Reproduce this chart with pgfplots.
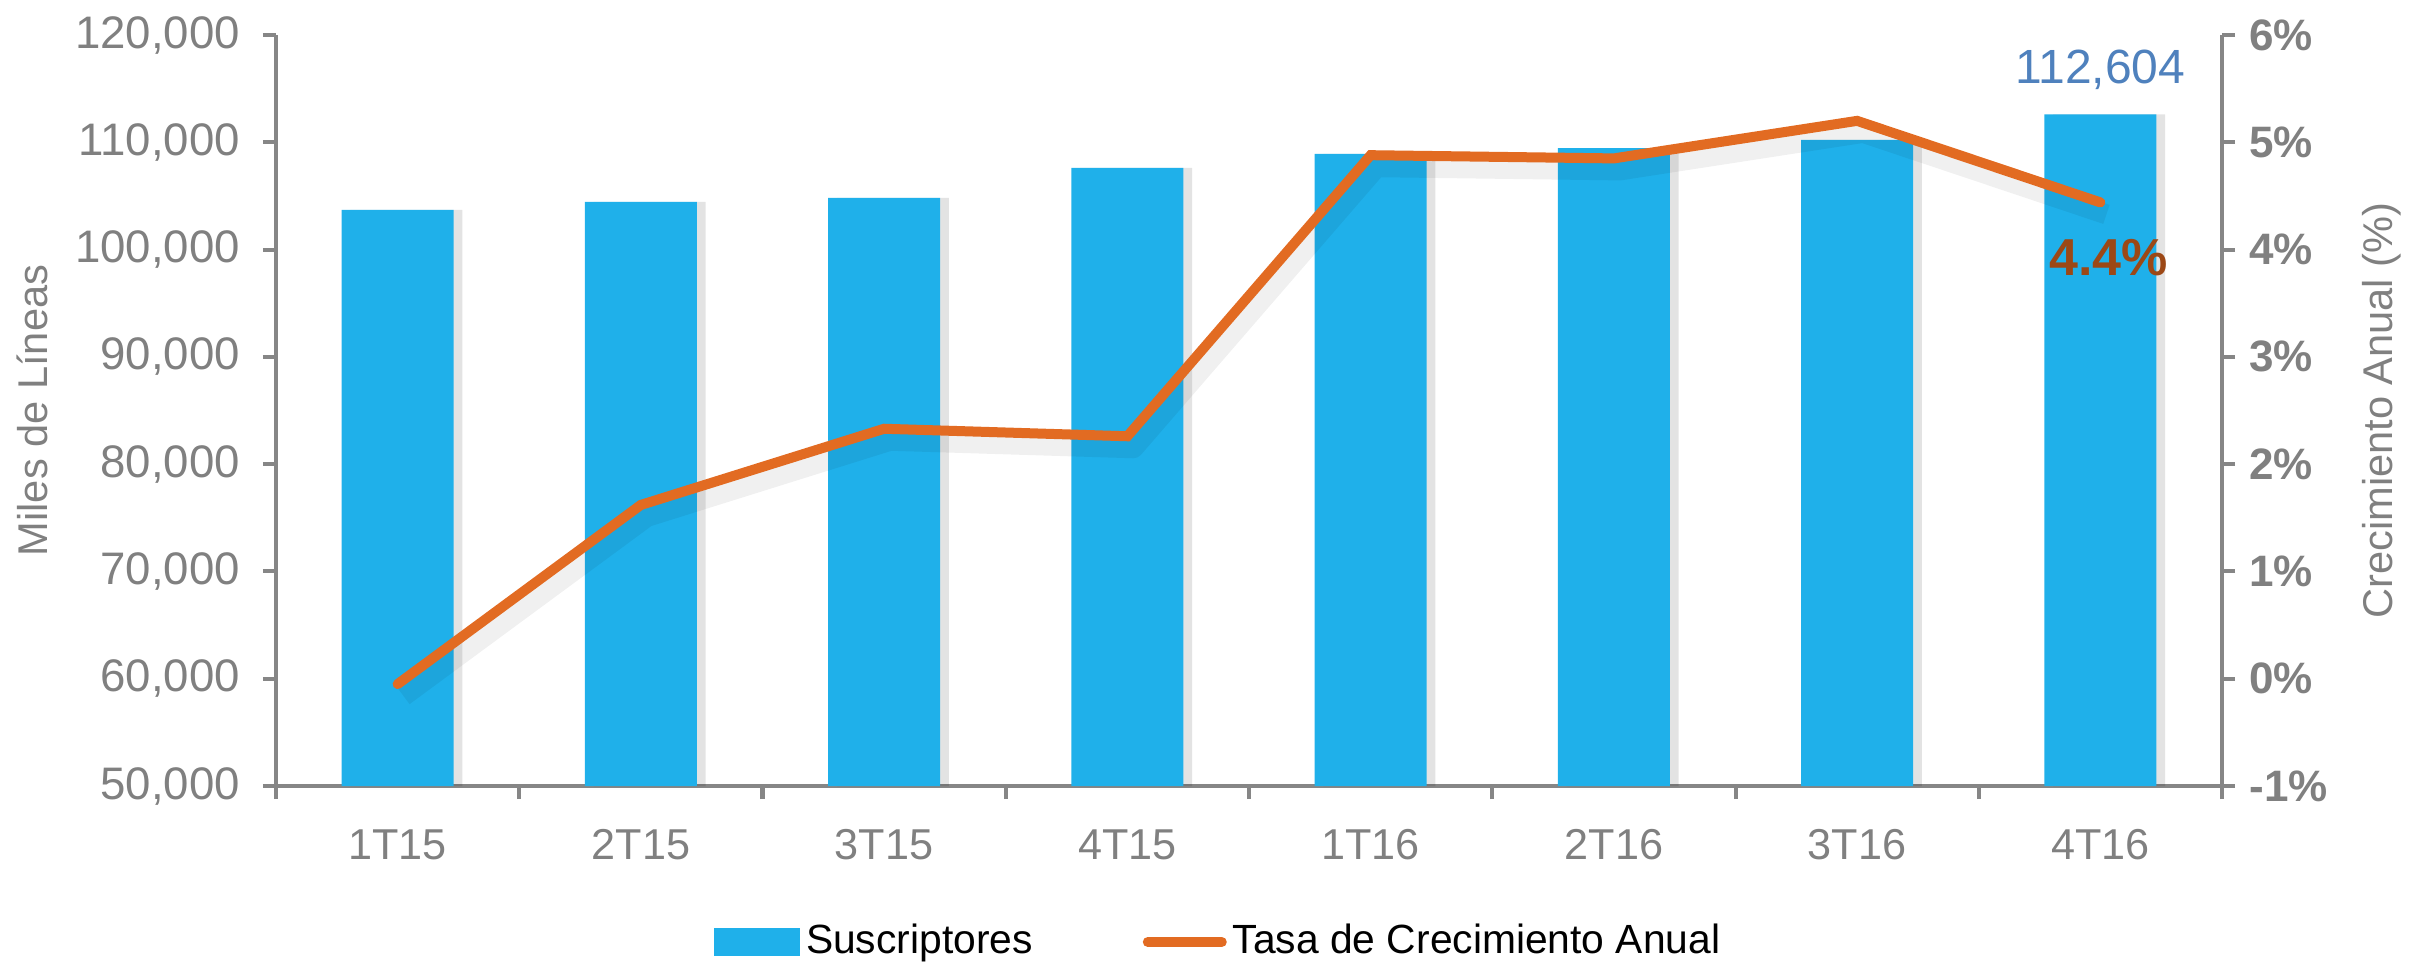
\documentclass[border=0pt]{standalone}
\usepackage{fontspec}
\setmainfont{Liberation Sans}
\usepackage{pgfplots}
\usepackage{pgfplotstable}
\pgfplotsset{compat=1.18}

\definecolor{barblue}{RGB}{31,176,234}
\definecolor{lineorange}{RGB}{226,107,34}
\definecolor{axisgray}{RGB}{134,134,134}
\definecolor{labelgray}{RGB}{128,128,128}
\definecolor{valblue}{RGB}{79,129,189}
\definecolor{valbrown}{RGB}{156,72,22}

% subscribers (thousands of lines) and annual growth (%)
\pgfplotstableread{
idx subs growth
0 103700 -0.05
1 104450 1.62
2 104820 2.33
3 107620 2.26
4 108920 4.88
5 109450 4.85
6 110230 5.20
7 112604 4.44
}\datatable

\pgfplotsset{
  base/.style={
    width=486.5pt, height=187.75pt, scale only axis,
    xmin=-0.5, xmax=7.5,
    /pgf/number format/assume math mode=true,
    axis line style={axisgray, line width=1pt},
    tick style={axisgray, line width=1pt},
    tick align=outside,
    major tick length=3.3pt,
    minor tick length=3.3pt,
  }
}

\begin{document}
\begin{tikzpicture}
\useasboundingbox (-69pt,-47.5pt) rectangle (536pt,196.5pt);

\begin{axis}[base,
    axis y line*=left, axis x line*=bottom,
    ymin=50000, ymax=120000,
    ytick={50000,60000,...,120000},
    scaled y ticks=false,
    /pgf/number format/fixed,
    /pgf/number format/1000 sep={,},
    yticklabel style={text=labelgray, font=\fontsize{11.4}{12}\selectfont, xshift=-2.2pt},
    xtick={0,...,7},
    xticklabels={1T15,2T15,3T15,4T15,1T16,2T16,3T16,4T16},
    every major x tick/.append style={draw=none},
    minor xtick={-0.5,0.5,...,7.5},
    xticklabel style={text=labelgray, font=\fontsize{10.8}{12}\selectfont, yshift=-4pt},
    ylabel={Miles de Líneas},
    ylabel style={at={(axis description cs:-0.1254,0.5)}, anchor=center,
      text=labelgray, font=\fontsize{10.4}{12}\selectfont},
  ]
  \addplot[ybar, bar width=28pt, bar shift=2.2pt, fill=black, fill opacity=0.11, draw=none]
    table[x=idx, y=subs] {\datatable};
  \addplot[ybar, bar width=28pt, bar shift=0pt, fill=barblue, draw=none]
    table[x=idx, y=subs] {\datatable};
  \node[anchor=south, inner sep=0pt, yshift=6pt, text=valblue,
    font=\fontsize{12}{12}\selectfont] at (axis cs:7,112604) {112,604};
\end{axis}

\begin{axis}[base,
    axis y line*=right, axis x line=none,
    ymin=-1, ymax=6,
    ytick={-1,0,...,6},
    yticklabel={\textbf{\pgfmathprintnumber{\tick}\%}},
    yticklabel style={text=labelgray, font=\fontsize{11}{12}\selectfont},
    ylabel={Crecimiento Anual (\%)},
    ylabel style={at={(axis description cs:1.0822,0.5)}, anchor=center,
      text=labelgray, font=\fontsize{10.4}{12}\selectfont},
    legend columns=2,
    legend style={draw=none, fill=none,
      at={(axis description cs:0.4853,-0.2077)}, anchor=center,
      font=\fontsize{10.2}{12}\selectfont,
      /tikz/every even column/.append style={column sep=26pt},
      nodes={inner sep=1.5pt}},
  ]
  \addlegendimage{legend image code/.code={\fill[barblue] (0pt,-3.25pt) rectangle (21pt,3.25pt);}}
  \addlegendentry{Suscriptores}
  \addplot[forget plot, black, opacity=0.06, line width=5pt, line join=round, xshift=1.5pt, yshift=-3pt]
    table[x=idx, y=growth] {\datatable};
  \addplot[lineorange, line width=2.5pt, line cap=round, line join=miter,
    legend image code/.code={\draw[lineorange, line width=2.5pt, line cap=round] (1.25pt,0pt) -- (19.75pt,0pt);}]
    table[x=idx, y=growth] {\datatable};
  \addlegendentry{Tasa de Crecimiento Anual}
  \node[anchor=north, inner sep=0pt, xshift=2pt, yshift=-9pt, text=valbrown,
    font=\bfseries\fontsize{13}{13}\selectfont] at (axis cs:7,4.44) {4.4\%};
\end{axis}
\end{tikzpicture}
\end{document}
